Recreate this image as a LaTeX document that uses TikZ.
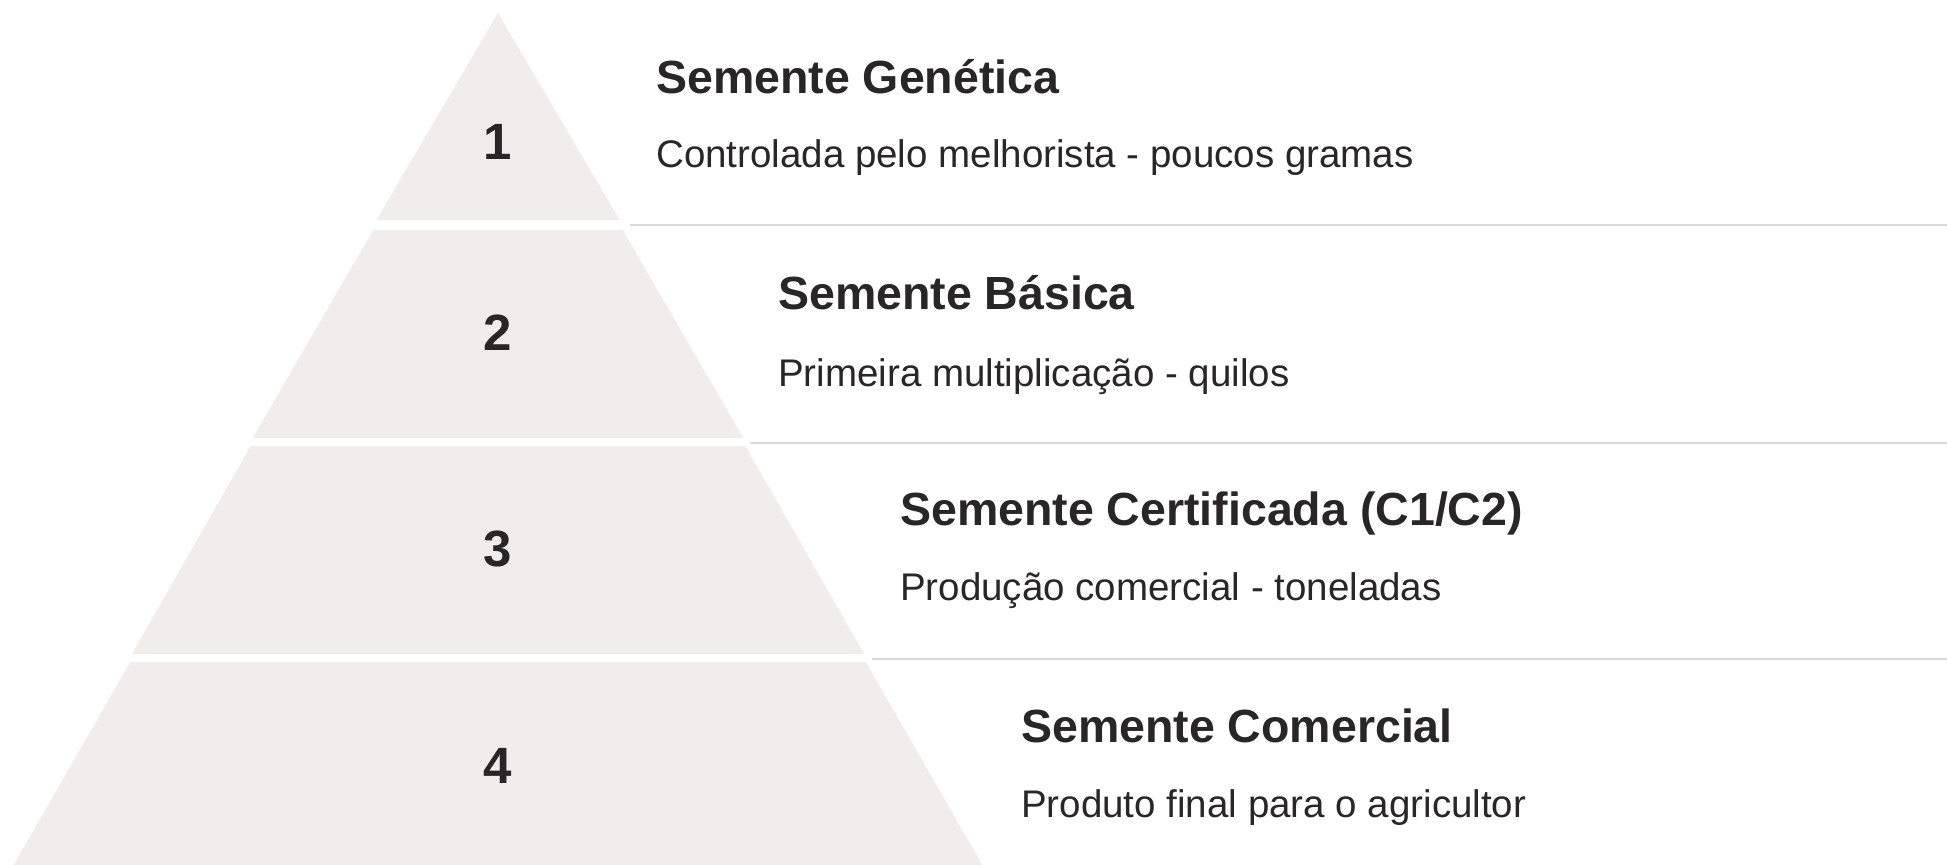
\documentclass[tikz,border=0pt]{standalone}
\usepackage{fontspec}
\setmainfont{Liberation Sans}
\definecolor{pyrfill}{HTML}{F0EDEC}
\definecolor{txtdark}{HTML}{282626}
\definecolor{sepgray}{HTML}{DAD7D7}
\begin{document}
\begin{tikzpicture}[x=1pt,y=-1pt,
  seg/.style={fill=pyrfill,draw=none},
  sepline/.style={draw=sepgray,line width=2pt},
  numtxt/.style={inner sep=0pt,anchor=center,text=txtdark,font=\fontsize{51}{55}\selectfont\bfseries},
  titletxt/.style={inner sep=0pt,anchor=base west,text=txtdark,font=\fontsize{46.5}{50}\selectfont\bfseries},
  subtxt/.style={inner sep=0pt,anchor=base west,text=txtdark,font=\fontsize{38.5}{42}\selectfont}]
\fill[white] (0,0) rectangle (1947,865);
\useasboundingbox (0,0) rectangle (1947,865);
% pyramid segments
\fill[seg] (498,13) -- (619.5,220) -- (376.5,220) -- cycle;
\fill[seg] (373.3,230) -- (622.7,230) -- (743.3,438) -- (252.7,438) -- cycle;
\fill[seg] (250.7,446) -- (745.3,446) -- (864,654) -- (132,654) -- cycle;
\fill[seg] (130.3,662) -- (865.7,662) -- (982.3,865) -- (13.7,865) -- cycle;
% separator lines
\coordinate (l1a) at (630,224.5); \coordinate (l1b) at (1947,224.5);
\coordinate (l2a) at (750,442.5); \coordinate (l2b) at (1947,442.5);
\coordinate (l3a) at (872,658.5); \coordinate (l3b) at (1947,658.5);
\draw[sepline] (l1a) -- (l1b);
\draw[sepline] (l2a) -- (l2b);
\draw[sepline] (l3a) -- (l3b);
% numbers
\node[numtxt] (n1) at (498,142) {1};
\node[numtxt] (n2) at (498,333) {2};
\node[numtxt] (n3) at (498,549) {3};
\node[numtxt] (n4) at (498,766) {4};
% texts
\node[titletxt] (t1) at (656,93) {Semente Genética};
\node[subtxt] (s1) at (656,167) {Controlada pelo melhorista - poucos gramas};
\node[titletxt] (t2) at (778,309) {Semente Básica};
\node[subtxt] (s2) at (778,386) {Primeira multiplicação - quilos};
\node[titletxt] (t3) at (900,525) {Semente Certificada (C1/C2)};
\node[subtxt] (s3) at (900,600) {Produção comercial - toneladas};
\node[titletxt] (t4) at (1021,742) {Semente Comercial};
\node[subtxt] (s4) at (1021,817) {Produto final para o agricultor};
\end{tikzpicture}
\end{document}
